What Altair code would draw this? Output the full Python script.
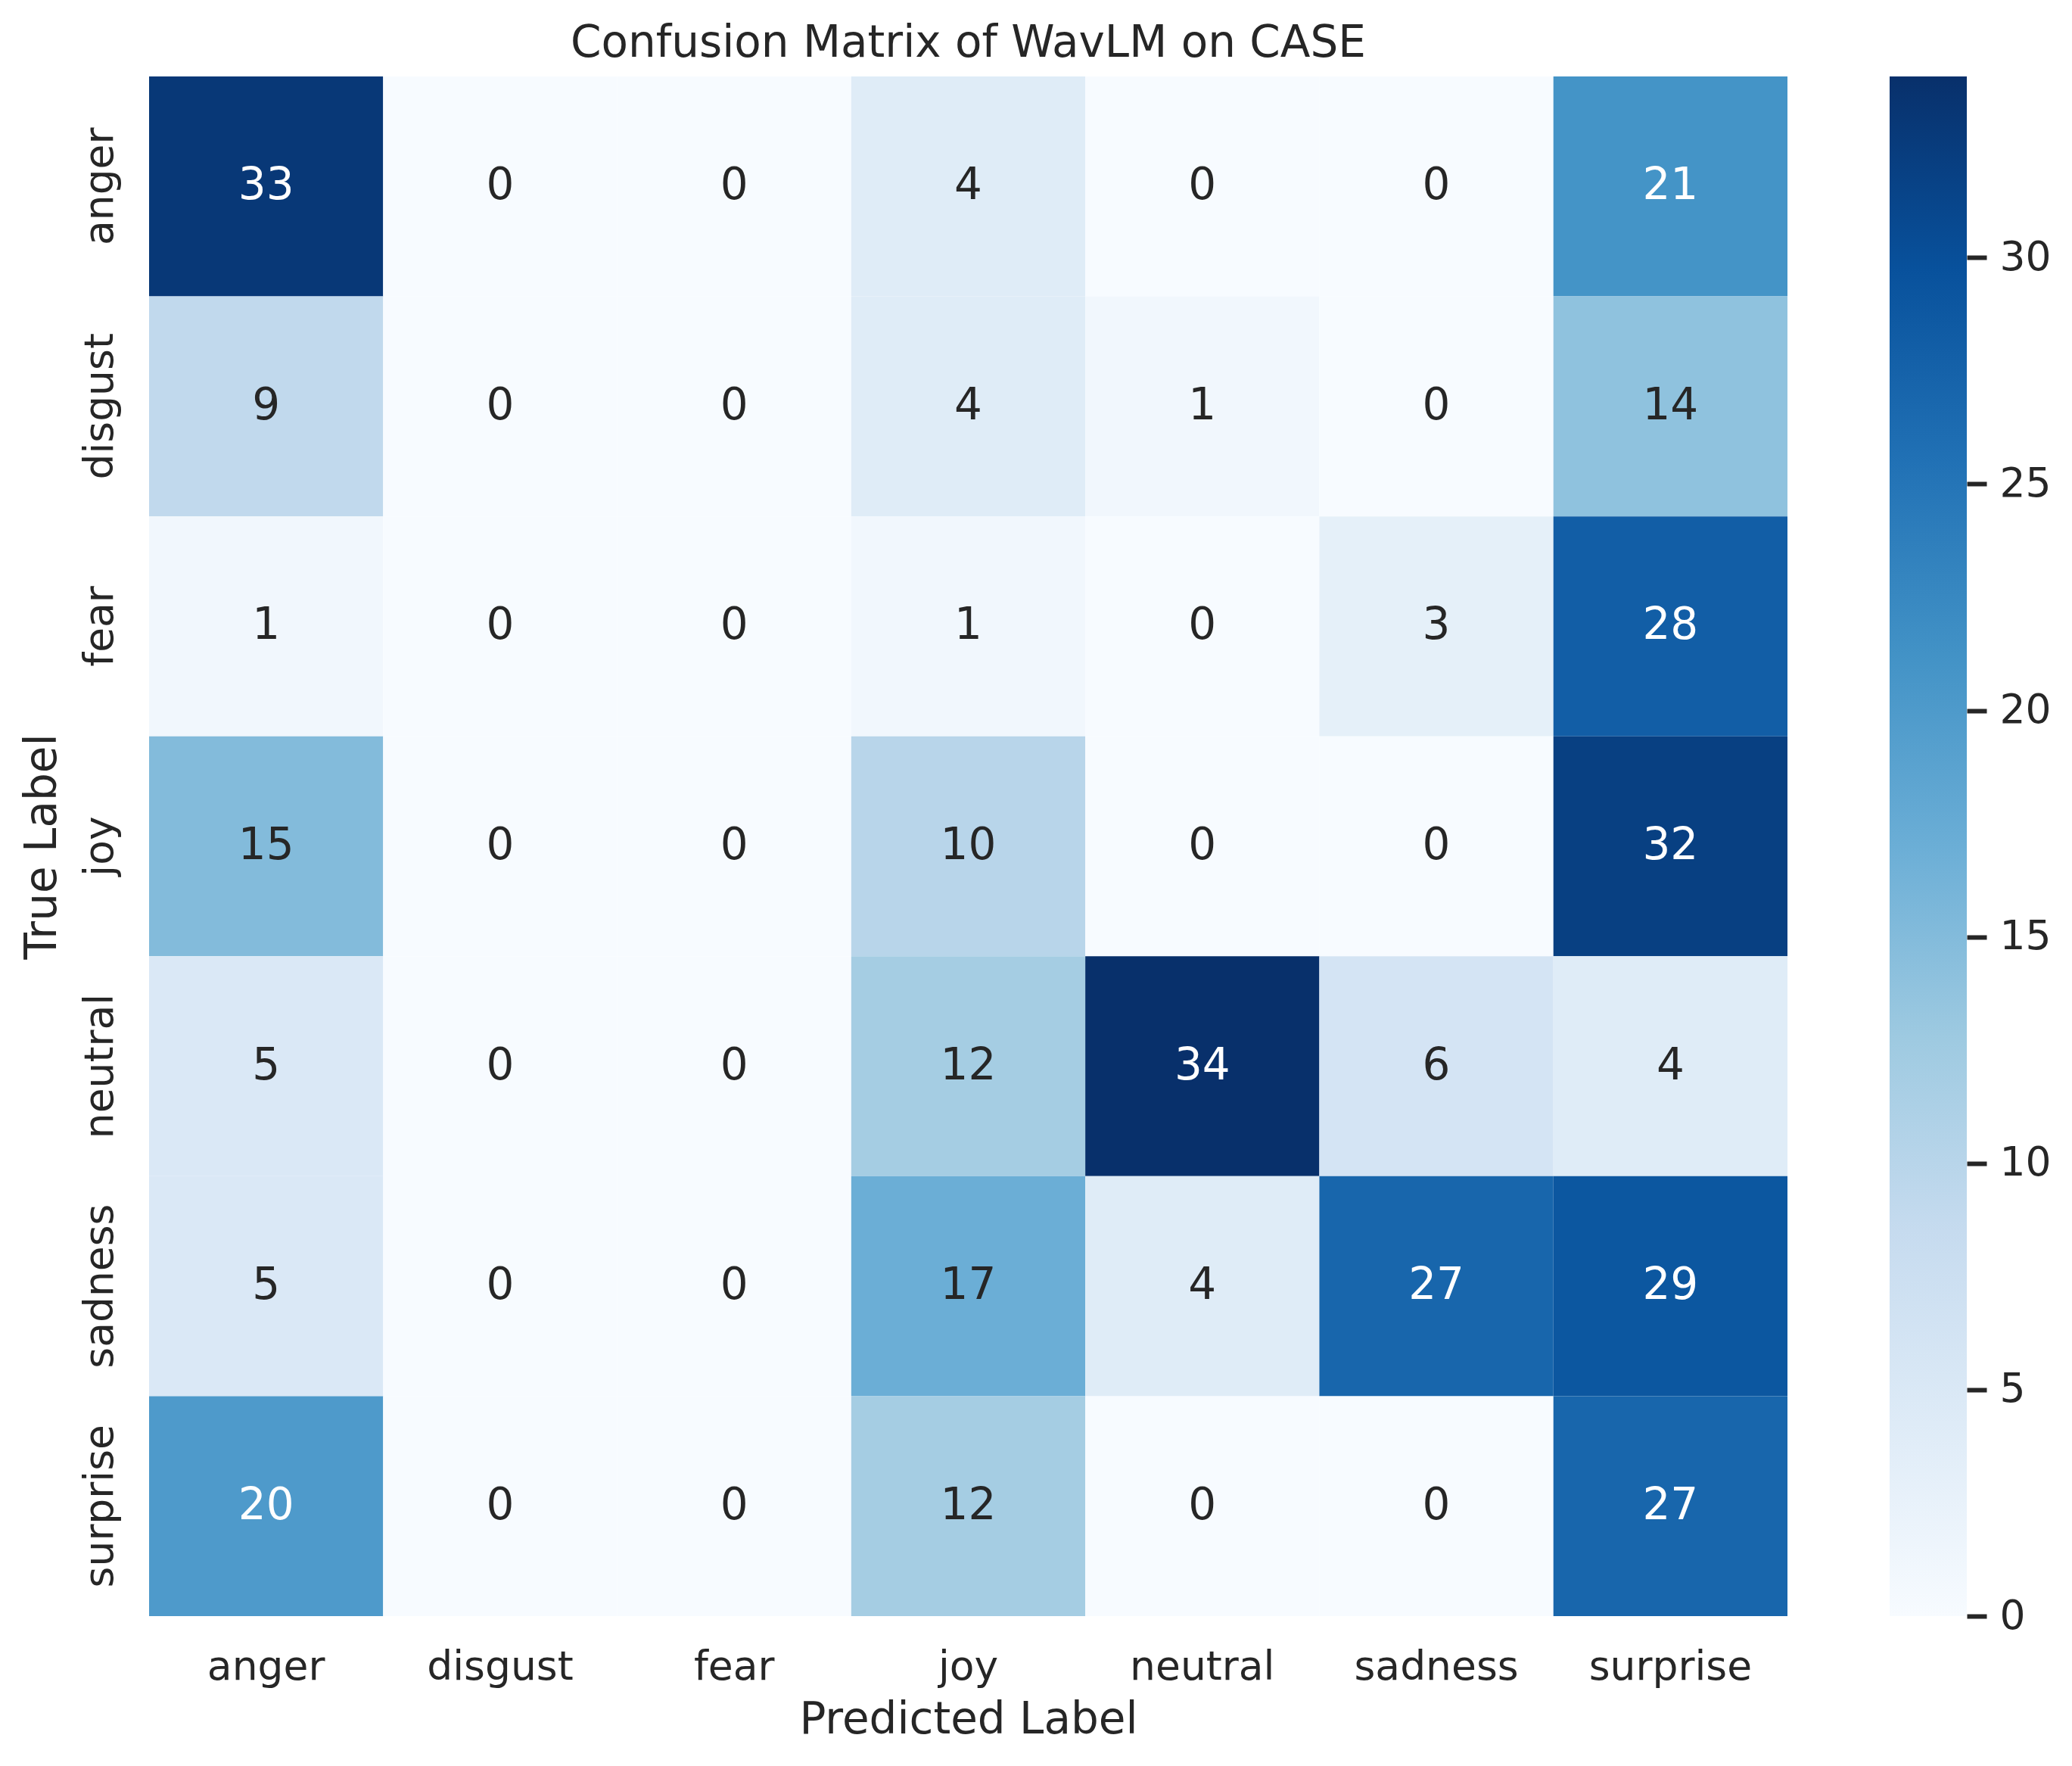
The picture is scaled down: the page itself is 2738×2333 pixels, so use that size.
import altair as alt
import pandas as pd

true_labels = ["anger", "disgust", "fear", "joy", "neutral", "sadness", "surprise"]
pred_labels = ["anger", "disgust", "fear", "joy", "neutral", "sadness", "surprise"]
counts = [
    [33, 0, 0, 4, 0, 0, 21],
    [9, 0, 0, 4, 1, 0, 14],
    [1, 0, 0, 1, 0, 3, 28],
    [15, 0, 0, 10, 0, 0, 32],
    [5, 0, 0, 12, 34, 6, 4],
    [5, 0, 0, 17, 4, 27, 29],
    [20, 0, 0, 12, 0, 0, 27],
]
colorbar_ticks = [0, 5, 10, 15, 20, 25, 30]
blues = ["#f7fbff", "#deebf7", "#c6dbef", "#9ecae1", "#6baed6",
         "#4292c6", "#2171b5", "#08519c", "#08306b"]

FONT = "DejaVu Sans"
INK = "#262626"
W, H = 2165, 2034

rows = [{"true": t, "pred": p, "count": counts[i][j]}
        for i, t in enumerate(true_labels) for j, p in enumerate(pred_labels)]
df = pd.DataFrame(rows)
vmin, vmax = 0, int(df["count"].max())
n = len(blues) - 1
stops_domain = [vmin + (vmax - vmin) * k / n for k in range(n + 1)]

xenc = alt.X("pred:N", sort=pred_labels, title="Predicted Label",
             scale=alt.Scale(paddingInner=0, paddingOuter=0),
             axis=alt.Axis(labelAngle=0, ticks=False, domain=False,
                           labelPadding=41, titlePadding=15, labelLimit=0,
                           labelFontSize=53.5, titleFontSize=58,
                           labelFont=FONT, titleFont=FONT, labelColor=INK,
                           titleColor=INK, titleFontWeight="normal"))
yenc = alt.Y("true:N", sort=true_labels, title="True Label",
             scale=alt.Scale(paddingInner=0, paddingOuter=0),
             axis=alt.Axis(labelAngle=-90, ticks=False, domain=False,
                           labelPadding=38, titlePadding=20, labelLimit=0,
                           labelFontSize=53.5, titleFontSize=58,
                           labelFont=FONT, titleFont=FONT, labelColor=INK,
                           titleColor=INK, titleFontWeight="normal"))

base = alt.Chart(df)
cells = base.mark_rect(strokeWidth=0).encode(
    x=xenc, y=yenc,
    color=alt.Color("count:Q",
                    scale=alt.Scale(domain=stops_domain, range=blues, interpolate="rgb"),
                    legend=None),
)
labels = base.mark_text(fontSize=58, font=FONT).encode(
    x=xenc, y=yenc,
    text=alt.Text("count:Q"),
    color=alt.condition("datum.count > 18", alt.value("#ffffff"), alt.value(INK)),
)
heat = (cells + labels).properties(width=W, height=H)

cb_df = pd.DataFrame({"lo": [vmin], "hi": [vmax]})
gradient = {
    "gradient": "linear", "x1": 0, "x2": 0, "y1": 1, "y2": 0,
    "stops": [{"offset": k / n, "color": c} for k, c in enumerate(blues)],
}
cbar = alt.Chart(cb_df).mark_rect(fill=gradient, strokeWidth=0).encode(
    x=alt.value(0), x2=alt.value(102),
    y=alt.Y("lo:Q", scale=alt.Scale(domain=[vmin, vmax], nice=False, zero=False),
            axis=alt.Axis(orient="right", values=colorbar_ticks, tickSize=26,
                          tickWidth=6, tickColor=INK, labelFontSize=53.5,
                          labelFont=FONT, labelColor=INK,
                          labelPadding=17, domain=False, grid=False, title=None)),
    y2="hi:Q",
).properties(width=102, height=H)

chart = alt.hconcat(heat, cbar, spacing=135).properties(
    padding={"left": 19, "top": 21, "right": 0, "bottom": 0},
    background="white",
    title=alt.TitleParams("Confusion Matrix of WavLM on CASE", fontSize=58, font=FONT,
                          color=INK, fontWeight="normal", offset=14,
                          anchor="start", frame="group", align="center", dx=W / 2),
).configure_view(stroke=None)

chart.save("out.html", embed_options={"renderer": "svg", "actions": False})
